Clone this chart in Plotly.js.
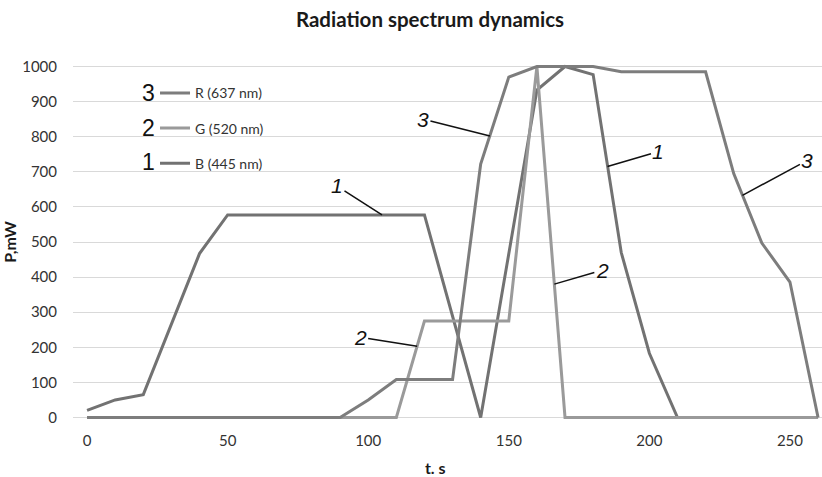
<!DOCTYPE html>
<html>
<head>
<meta charset="utf-8">
<script src="https://cdn.plot.ly/plotly-3.0.1.min.js"></script>
<style>html,body{margin:0;padding:0;background:#fff;}#chart{width:822px;height:477px;}</style>
</head>
<body>
<div id="chart"></div>
<script>
// Series B (445 nm) - curve 1
const tB = [0, 10, 20, 40, 50, 120, 140, 160, 170, 180, 190, 200, 210, 260];
const pB = [20, 50, 65, 467, 577, 577, 0, 933, 1000, 977, 470, 183, 0, 0];
// Series G (520 nm) - curve 2
const tG = [0, 110, 120, 150, 160, 170, 260];
const pG = [0, 0, 275, 275, 1000, 0, 0];
// Series R (637 nm) - curve 3
const tR = [0, 90, 100, 110, 130, 140, 150, 160, 180, 190, 220, 230, 240, 250, 260];
const pR = [0, 0, 50, 108, 108, 722, 970, 1000, 1000, 985, 985, 695, 497, 386, 0];

const seriesNames = ["B (445 nm)", "G (520 nm)", "R (637 nm)"];
const seriesNums = ["1", "2", "3"];
const xTicks = [0, 50, 100, 150, 200, 250];

const colors = ["#727272", "#9a9a9a", "#7d7d7d"];
const txs = [tB, tG, tR];
const pys = [pB, pG, pR];

const traces = txs.map((tx, i) => ({
  type: "scatter",
  mode: "lines",
  x: tx,
  y: pys[i],
  name: seriesNames[i],
  legendgroup: "g" + i,
  legendrank: 3 - i,
  line: {color: colors[i], width: 3},
  hoverinfo: "x+y+name"
}));

const numFont = {family: "Liberation Sans Narrow, Liberation Sans, Arial", size: 23, color: "#111"};
const italFont = {family: "Liberation Sans, Arial", size: 21, color: "#111", style: "italic"};

function callout(txt, x, y, ax, ay) {
  return {text: txt, x: x, y: y, xref: "x", yref: "y", ax: ax, ay: ay,
    showarrow: true, arrowhead: 0, arrowwidth: 1.5, arrowcolor: "#111", standoff: 0,
    font: italFont};
}

function legNum(txt, py) {
  return {text: txt, xref: "x", yref: "y", x: (148 - 87) / 2.812, y: (418 - py) / 0.352,
    showarrow: false, font: numFont};
}

const annotations = [
  callout(seriesNums[0], 104.9, 577, -45, -29),
  callout(seriesNums[2], 143.3, 802, -67, -17),
  callout(seriesNums[1], 117.4, 203, -57, -9),
  callout(seriesNums[1], 166.2, 380, 48, -14),
  callout(seriesNums[0], 185.1, 715, 51, -15),
  callout(seriesNums[2], 233.1, 633, 65, -35),
  legNum(seriesNums[2], 93),
  legNum(seriesNums[1], 128),
  legNum(seriesNums[0], 162)
];

const layout = {
  width: 822, height: 477,
  margin: {l: 73, r: 0, t: 62.5, b: 55.5},
  paper_bgcolor: "#ffffff", plot_bgcolor: "#ffffff",
  title: {text: "<b>Radiation spectrum dynamics</b>", x: 430 / 822, xanchor: "center",
    y: 1 - 20 / 477, yanchor: "middle", yref: "container",
    font: {family: "Lato, Open Sans, sans-serif", size: 20.5, color: "#1a1a1a"}},
  xaxis: {
    range: [-5, 261.4], tickvals: xTicks, ticktext: xTicks.map(String),
    showgrid: false, zeroline: false, showline: false, ticks: "",
    ticklabelstandoff: 9,
    tickfont: {family: "Lato, Open Sans, sans-serif", size: 15, color: "#333"},
    title: {text: "<b>t. s</b>&nbsp;&nbsp;&nbsp;&nbsp;&nbsp;&nbsp;", standoff: 16, font: {family: "Lato, Open Sans, sans-serif", size: 16, color: "#1a1a1a"}}
  },
  yaxis: {
    range: [-10, 1010], tick0: 0, dtick: 100,
    showgrid: true, gridcolor: "#d9d9d9", gridwidth: 1,
    zeroline: false, showline: false, ticks: "",
    ticklabelstandoff: 15,
    tickfont: {family: "Lato, Open Sans, sans-serif", size: 15, color: "#333"},
    title: {text: "<b>P,mW</b>", standoff: 2, font: {family: "Lato, Open Sans, sans-serif", size: 16, color: "#1a1a1a"}}
  },
  showlegend: true,
  legend: {
    x: 0.1095, y: 0.96, xanchor: "left", yanchor: "top",
    traceorder: "grouped", tracegroupgap: 14,
    bgcolor: "rgba(0,0,0,0)", borderwidth: 0,
    font: {family: "Lato, Open Sans, sans-serif", size: 14, color: "#333"}
  },
  annotations: annotations
};

Plotly.newPlot("chart", traces, layout, {displayModeBar: false, staticPlot: true});
</script>
</body>
</html>
